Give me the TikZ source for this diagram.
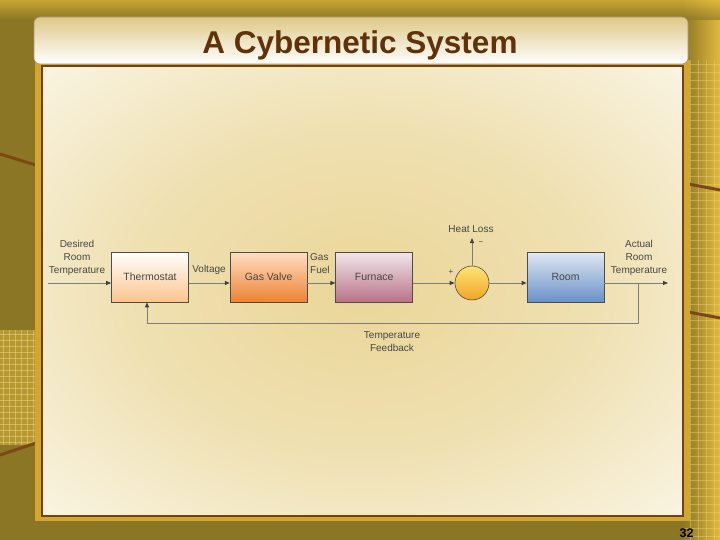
\documentclass[tikz,border=0pt]{standalone}
\usepackage{fontspec}
\setmainfont{Liberation Sans}
\usepackage{xcolor}
\usepackage{tikz}
\usetikzlibrary{positioning,arrows.meta,calc}
\definecolor{olivebg}{RGB}{138,118,36}
\definecolor{goldbg}{RGB}{226,186,62}
\definecolor{panelrim}{RGB}{212,166,48}
\definecolor{brownline}{RGB}{112,66,22}
\definecolor{cream}{RGB}{252,249,238}
\definecolor{glow}{RGB}{234,214,152}
\definecolor{titletop}{RGB}{222,200,136}
\definecolor{titleink}{RGB}{95,50,10}
\definecolor{wire}{RGB}{125,125,125}
\definecolor{ink}{RGB}{70,70,70}
\definecolor{thermlo}{RGB}{252,196,140}
\definecolor{valvehi}{RGB}{255,222,195}
\definecolor{valvelo}{RGB}{238,130,50}
\definecolor{furnhi}{RGB}{242,230,235}
\definecolor{furnlo}{RGB}{185,115,135}
\definecolor{roomhi}{RGB}{225,232,242}
\definecolor{roomlo}{RGB}{105,145,200}
\definecolor{sumhi}{RGB}{255,228,120}
\definecolor{sumlo}{RGB}{240,165,35}
\pgfdeclareradialshading{panelglow}{\pgfpoint{0bp}{0bp}}{color(0bp)=(glow); color(18bp)=(glow!70!cream); color(40bp)=(cream); color(50bp)=(cream)}
\tikzset{
    block/.style={rectangle,draw=black!70,semithick,minimum width=77pt,minimum height=50pt,inner sep=0pt,font=\fontsize{10.5}{12}\selectfont,text=ink},
    sumnode/.style={circle,draw=black!70,semithick,minimum size=34pt,inner sep=0pt,top color=sumhi,bottom color=sumlo},
    lbl/.style={align=center,inner sep=0pt,font=\fontsize{10}{13}\selectfont,text=ink},
    sig/.style={draw=wire,line width=0.8pt,-{Triangle[length=5pt,width=4pt,color=black!75,fill=black!75]}},
    streak/.style={draw=brownline!90!orange,line width=3pt},
}

\begin{document}
\begin{tikzpicture}[x=1pt,y=-1pt]
\useasboundingbox (0,0) rectangle (720,540);
\fill[olivebg] (0,0) rectangle (720,540);
\shade[left color=olivebg,right color=goldbg] (683,0) rectangle (720,540);
\shade[top color=goldbg,bottom color=olivebg,opacity=0.7] (0,0) rectangle (720,20);
\fill[goldbg,opacity=0.5] (0,330) rectangle (35,445);
\foreach \gx in {3,9,...,33} \draw[goldbg!60!white,opacity=0.5,line width=0.6pt] (\gx,330) -- (\gx,445);
\foreach \gy in {334,340,...,442} \draw[goldbg!60!white,opacity=0.5,line width=0.6pt] (0,\gy) -- (35,\gy);
\foreach \gx in {690,698,...,718} \draw[goldbg!60!white,opacity=0.4,line width=0.6pt] (\gx,60) -- (\gx,540);
\foreach \gy in {64,72,...,536} \draw[goldbg!60!white,opacity=0.4,line width=0.6pt] (683,\gy) -- (720,\gy);
\draw[streak] (0,154) -- (42,167);
\draw[streak] (0,455) -- (42,441);
\draw[streak] (683,183) -- (720,190);
\draw[streak] (683,311) -- (720,318);

\fill[panelrim] (35,60) rectangle (690,521);
\shade[shading=panelglow] (42,66) rectangle (683,516);
\draw[brownline,line width=2.5pt] (42,66) rectangle (683,516);
\shade[top color=titletop,bottom color=white,rounded corners=6pt,draw=brownline!60,line width=0.6pt] (34,17) rectangle (688,64);
\node[anchor=base,font=\fontsize{31.5}{36}\selectfont\bfseries,text=titleink] (title) at (360,54) {A Cybernetic System};
\node[anchor=base,font=\fontsize{12.5}{14}\selectfont\bfseries] (pageno) at (686.5,537) {32};

\node[block,top color=white,bottom color=thermlo] (therm) at (150,277) {Thermostat};
\node[block,top color=valvehi,bottom color=valvelo,right=41pt of therm] (valve) {Gas Valve};
\node[block,top color=furnhi,bottom color=furnlo,right=28pt of valve] (furn) {Furnace};
\node[sumnode] (sum) at (472,283) {};
\node[block,top color=roomhi,bottom color=roomlo] (room) at (565.5,277) {Room};

\coordinate (in) at (48,283);
\coordinate (out) at (668,283);
\coordinate (tap) at (638,283);
\coordinate (loss) at (472,238);
\coordinate (fbturn) at (147,323);

\draw[sig] (in) -- (in -| therm.west);
\draw[sig] (therm.east |- in) -- (valve.west |- in);
\draw[sig] (valve.east |- in) -- (furn.west |- in);
\draw[sig] (furn.east |- in) -- (sum.west);
\draw[sig] (sum.east) -- (room.west |- in);
\draw[sig] (room.east |- in) -- (out);
\draw[sig] (sum.north) -- (loss);
\draw[sig] (tap) |- (fbturn) -- (fbturn |- therm.south);

\node[lbl] (desired) at (77,257.5) {Desired\\Room\\Temperature};
\node[lbl] (volt) at (209,270) {Voltage};
\node[lbl,align=left,anchor=west] (fuel) at (310,263.5) {Gas\\Fuel};
\node[lbl] (heat) at (471,229) {Heat Loss};
\node[lbl,font=\fontsize{8}{8}\selectfont] (minus) at (481,243) {−};
\node[lbl,font=\fontsize{8}{8}\selectfont] (plus) at (451,272) {+};
\node[lbl] (actual) at (639,257.5) {Actual\\Room\\Temperature};
\node[lbl] (feedback) at (392,342) {Temperature\\Feedback};
\end{tikzpicture}
\end{document}
